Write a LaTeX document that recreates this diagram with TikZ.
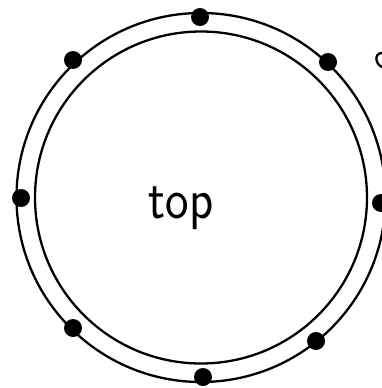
\documentclass[tikz,border=0pt]{standalone}
\begin{document}
\begin{tikzpicture}[x=1pt,y=-1pt,
  ring/.style={draw=black,line width=2.3pt,fill=none},
  pin/.style={circle,fill=black,inner sep=0pt,minimum size=18pt},
  label/.style={font=\sffamily\fontsize{50}{50}\selectfont,inner sep=0pt,yscale=1.15}]
\useasboundingbox (0,0) rectangle (382,388);
\coordinate (c) at (201,197.5);
\draw[ring] (c) circle[radius=184.5];
\draw[ring] (c) circle[radius=166];
\node[pin] (d1) at (200,17) {};
\node[pin] (d2) at (328,62) {};
\node[pin] (d3) at (73,60) {};
\node[pin] (d4) at (21,198) {};
\node[pin] (d5) at (381,203) {};
\node[pin] (d6) at (73,328) {};
\node[pin] (d7) at (316,341) {};
\node[pin] (d8) at (203,377) {};
\node[label] (t) at (181,208) {top};
\draw[line width=2.3pt,line cap=round] (382,53) .. controls (374,53) and (375,64) .. (382,67);
\end{tikzpicture}
\end{document}
